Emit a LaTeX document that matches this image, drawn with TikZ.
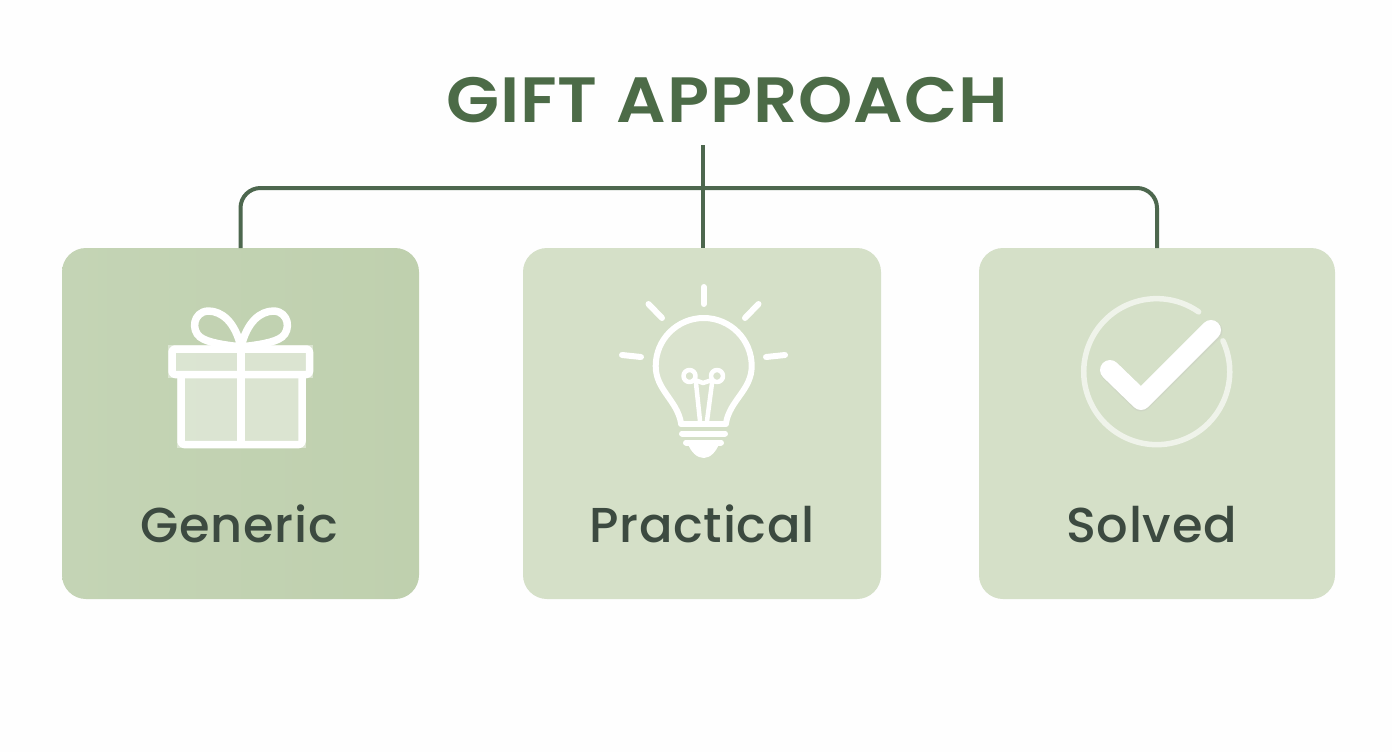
\documentclass[tikz,border=0pt]{standalone}
\usepackage{fontspec}
\setmainfont{Poppins}
\newfontfamily\titlefont[LetterSpace=1.5,FakeStretch=1.08,WordSpace=1.1]{Poppins SemiBold}
\newfontfamily\labelfont[LetterSpace=1.5,FakeStretch=1.01]{Poppins Medium}
\definecolor{linec}{HTML}{4D674E}
\definecolor{titlec}{HTML}{4C6B47}
\definecolor{labelc}{HTML}{3C4A40}
\definecolor{panelA}{HTML}{C4D4B5}
\definecolor{panelAb}{HTML}{BFD0AE}
\definecolor{panelB}{HTML}{D5E0C8}
\tikzset{
  panel/.style={minimum height=351pt,rounded corners=24pt,inner sep=0pt,outer sep=0pt,draw=none},
  conn/.style={draw=linec,line width=4pt},
  lab/.style={text=labelc,font=\labelfont\fontsize{49}{53}\selectfont,inner sep=0pt,anchor=base},
  icon/.style={draw=white,line width=7.5pt,line cap=round,line join=round},
  tint/.style={fill=white,fill opacity=.42,draw=none},
}
\begin{document}
\begin{tikzpicture}[x=1pt,y=-1pt]
\useasboundingbox (0,0) rectangle (1392,752);
\fill[white!99.5!black] (0,0) rectangle (1392,752);
% panels
\node[panel,minimum width=357pt,left color=panelA,right color=panelAb] (p1) at (240.5,423.5) {};
\node[panel,minimum width=358pt,fill=panelB] (p2) at (702,423.5) {};
\node[panel,minimum width=356pt,fill=panelB] (p3) at (1157,423.5) {};
% title
\node[text=titlec,font=\titlefont\fontsize{64}{70}\selectfont,inner sep=0pt,anchor=base] (title) at (727,122) {GIFT APPROACH};
% connectors
\coordinate (root) at (703,145);
\coordinate (hub) at (703,188);
\draw[conn,rounded corners=20pt] (p1.north) |- (hub) -| (p3.north);
\draw[conn] (root) -- (root |- p2.north);
% labels
\node[lab] (l1) at (239,542) {Generic};
\node[lab] (l2) at (702,542) {Practical};
\node[lab] (l3) at (1151.5,542) {Solved};
% gift
\fill[tint] (177,378) rectangle (306,448);
\fill[tint] (168,345) rectangle (313,378);
\draw[icon,rounded corners=3pt] (172,349) rectangle (309.5,374.5);
\draw[icon,rounded corners=3pt] (181,375) -- (181,444.5) -- (302,444.5) -- (302,375);
\draw[icon,line cap=butt] (241,347) -- (241,444.5);
\draw[icon] (241,347) .. controls (235,322) and (222,311) .. (208,311) .. controls (193,312) and (191,330) .. (200,337) .. controls (208,343) and (225,345) .. (241,347);
\draw[icon] (241,347) .. controls (247,322) and (260,311) .. (274,311) .. controls (289,312) and (291,330) .. (282,337) .. controls (274,343) and (257,345) .. (241,347);
% bulb
\begin{scope}[icon,line width=6pt]
\draw (703.7,287) -- (703.7,304);
\draw (648.5,304) -- (662,318);
\draw (758.5,304) -- (745,318);
\draw (622,355) -- (641,357);
\draw (785,355) -- (766,357);
\fill[white,fill opacity=.12,draw=none] (681,423) .. controls (677,400) and (655.7,390) .. (655.7,366) arc[start angle=180,end angle=360,radius=48] .. controls (751.7,390) and (730,400) .. (726,423) -- cycle;
\draw (681,423) .. controls (677,400) and (655.7,390) .. (655.7,366) arc[start angle=180,end angle=360,radius=48] .. controls (751.7,390) and (730,400) .. (726,423);
\draw (681,424) -- (726,424);
\draw (682,433.5) -- (725,433.5);
\draw (686,442.5) -- (721,442.5);
\fill[white,draw=none] (688,444) .. controls (691,452) and (697,458) .. (703.7,458) .. controls (710,458) and (716,452) .. (719,444) -- cycle;
\draw[line width=4.5pt] (696,383) -- (700,421);
\draw[line width=4.5pt] (712,383) -- (707,421);
\draw[line width=4.5pt] (689.5,376) circle[radius=6];
\draw[line width=4.5pt] (717,376) circle[radius=6];
\draw[line width=4.5pt] (695,380) -- (703,383) -- (712,380);
\end{scope}
% check
\draw[draw=white,draw opacity=.62,line width=5.5pt,line cap=round] (1222.9,340.8) arc[start angle=-25,end angle=305,radius=73];
\draw[draw=black!25,draw opacity=.25,line width=21pt,line cap=round,line join=round] (1110.5,371) -- (1141,401) -- (1212,331);
\draw[draw=white,line width=20pt,line cap=round,line join=round] (1110,370) -- (1141,400) -- (1211,330);
\end{tikzpicture}
\end{document}
